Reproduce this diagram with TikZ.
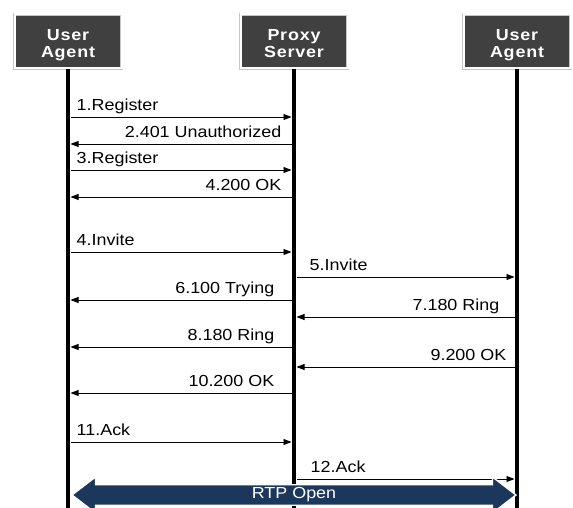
\documentclass[tikz,border=0pt]{standalone}
\usepackage{fontspec}
\setmainfont{Liberation Sans}
\newfontfamily\widefont[FakeStretch=1.12]{Liberation Sans}
\newfontfamily\boxfont[FakeStretch=1.12, LetterSpace=5]{Liberation Sans}
\usetikzlibrary{arrows.meta, positioning, shapes.arrows, calc}
\definecolor{boxgray}{RGB}{64, 64, 64}
\definecolor{rtpblue}{RGB}{27, 56, 92}
% two-line participant name, set a little below the box centre
\newcommand{\agentname}[2]{\raisebox{-4pt}[\height][\depth]{%
  \begin{tabular}{@{}c@{}}#1\\#2\end{tabular}}}

\begin{document}
\begin{tikzpicture}[x=1pt, y=-1pt,
  every node/.style={font=\widefont\fontsize{16}{17}\selectfont},
  agent/.style={rectangle, fill=boxgray, draw=gray!45, double=white,
                double distance=2pt, line width=0.7pt, minimum width=107pt,
                minimum height=54pt, inner sep=0pt, text=white,
                font=\boxfont\bfseries\fontsize{16}{17}\selectfont},
  life/.style={line width=4.5pt},
  msg/.style={line width=0.8pt, shorten <=2.5pt, shorten >=2.5pt,
              -{Triangle[length=8pt, width=6pt]}},
  rtp/.style={double arrow, fill=rtpblue, draw=white, line width=1.4pt,
              minimum height=444pt, minimum width=36pt, inner sep=0pt,
              double arrow head extend=6pt, double arrow tip angle=75,
              text=white}
]
\useasboundingbox (0,0) rectangle (573,508);
\clip (0,0) rectangle (573,508);

% Participants
\node[agent] (ua1) at (68, 41.5)  {\agentname{User}{Agent}};
\node[agent] (ps)  at (294, 41.5) {\agentname{Proxy}{Server}};
\node[agent] (ua2) at (517, 41.5) {\agentname{User}{Agent}};

% Lifelines down to the bottom edge
\foreach \p in {ua1,ps,ua2}{
  \draw[life] (\p.south) -- (\p.south |- 0,510);
}

% Messages: from / to / y / label side / label shift / text
\foreach \from/\to/\y/\side/\dx/\txt in {
    ua1/ps/117/west/5/1.Register,
    ps/ua1/144/east/-9/2.401 Unauthorized,
    ua1/ps/170/west/5/3.Register,
    ps/ua1/197/east/-9/4.200 OK,
    ua1/ps/252/west/5/4.Invite,
    ps/ua2/277/west/12/5.Invite,
    ps/ua1/300/east/-16/6.100 Trying,
    ua2/ps/317/east/-14/7.180 Ring,
    ps/ua1/347/east/-16/8.180 Ring,
    ua2/ps/367/east/-7/9.200 OK,
    ps/ua1/393/east/-16/10.200 OK,
    ua1/ps/442/west/5/11.Ack,
    ps/ua2/479/west/13/12.Ack}{
  \draw[msg] (\from.south |- 0,\y) -- (\to.south |- 0,\y)
    node[pos=0, anchor=base \side, xshift=\dx pt, yshift=6.5pt] {\txt};
}

% Media stream
\node[rtp] (rtpopen) at (294, 495) {RTP Open};

\end{tikzpicture}
\end{document}
